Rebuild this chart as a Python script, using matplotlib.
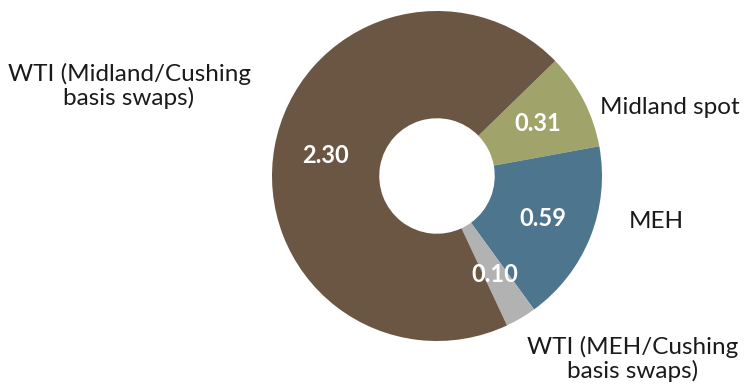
import matplotlib
matplotlib.use('Agg')
import matplotlib.pyplot as plt

# data
categories = ['Midland spot', 'MEH', 'WTI (MEH/Cushing\nbasis swaps)', 'WTI (Midland/Cushing\nbasis swaps)']
values = [0.31, 0.59, 0.10, 2.30]
colors = ['#A0A46A', '#4D758D', '#B2B2B2', '#6B5644']

plt.rcParams['font.family'] = ['Lato', 'DejaVu Sans']

W, H = 749, 389
fig = plt.figure(figsize=(W / 100, H / 100), dpi=100)
ax = fig.add_axes([0, 0, 1, 1])

total = sum(values)
wedges, texts, autotexts = ax.pie(
    values, colors=colors, startangle=44.2, counterclock=False,
    center=(437, H - 176), radius=165, frame=True,
    wedgeprops=dict(width=165 * 0.65, linewidth=0),
    autopct=lambda p: '%.2f' % (p * total / 100), pctdistance=0.69,
    textprops=dict(color='white', fontsize=17, fontweight='bold'))
ax.set_xlim(0, W)
ax.set_ylim(0, H)
ax.set_aspect('equal')
ax.axis('off')

# category labels
lab_kw = dict(fontsize=17.5, color='#1a1a1a', linespacing=1.1)
ax.text(129, H - 86, categories[3], ha='center', va='center', **lab_kw)
ax.text(600, H - 107, categories[0], ha='left', va='center', **lab_kw)
ax.text(629, H - 221, categories[1], ha='left', va='center', **lab_kw)
ax.text(633, H - 359, categories[2], ha='center', va='center', **lab_kw)

fig.savefig('out.png', dpi=100)
